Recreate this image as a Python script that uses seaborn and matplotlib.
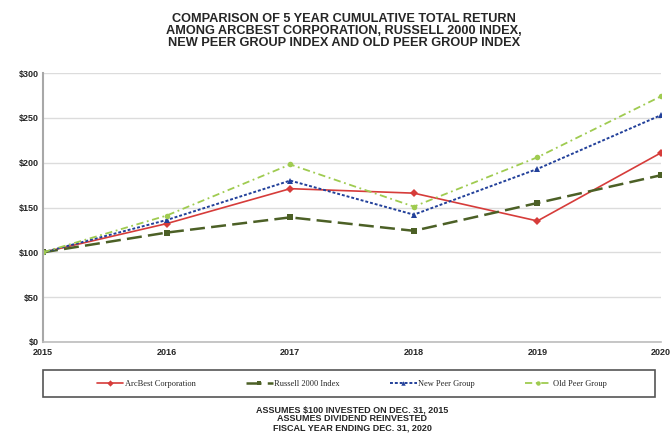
import matplotlib
matplotlib.use('Agg')
import matplotlib.pyplot as plt
from matplotlib.patches import Rectangle
import pandas as pd
import seaborn as sns

years = [2015, 2016, 2017, 2018, 2019, 2020]
arcbest = [100, 132, 171, 166, 135, 211]
russell = [100, 122, 139, 124, 155, 186]
new_peer = [100, 136, 180, 142, 193, 253]
old_peer = [100, 141, 198, 151, 206, 274]
series_names = ['ArcBest Corporation', 'Russell 2000 Index', 'New Peer Group', 'Old Peer Group']
y_ticks = [0, 50, 100, 150, 200, 250, 300]

title = ('COMPARISON OF 5 YEAR CUMULATIVE TOTAL RETURN\n'
         'AMONG ARCBEST CORPORATION, RUSSELL 2000 INDEX,\n'
         'NEW PEER GROUP INDEX AND OLD PEER GROUP INDEX')
footer = ('ASSUMES $100 INVESTED ON DEC. 31, 2015\n'
          'ASSUMES DIVIDEND REINVESTED\n'
          'FISCAL YEAR ENDING DEC. 31, 2020')

# long format for seaborn
df = pd.DataFrame({
    'year': years * 4,
    'value': arcbest + russell + new_peer + old_peer,
    'series': [n for n in series_names for _ in years],
})

palette = {
    'ArcBest Corporation': '#d63c3a',
    'Russell 2000 Index': '#4c6026',
    'New Peer Group': '#22409a',
    'Old Peer Group': '#9fcb50',
}
markers = {
    'ArcBest Corporation': 'D',
    'Russell 2000 Index': 's',
    'New Peer Group': '^',
    'Old Peer Group': 'o',
}
dashes = {
    'ArcBest Corporation': '',
    'Russell 2000 Index': (6, 2.5),
    'New Peer Group': (1.5, 1),
    'Old Peer Group': (4, 2, 1, 2),
}
widths = {
    'ArcBest Corporation': 1.2,
    'Russell 2000 Index': 1.8,
    'New Peer Group': 1.4,
    'Old Peer Group': 1.3,
}

sns.set_theme(style='white')
plt.rcParams['font.family'] = ['Liberation Sans', 'DejaVu Sans']

fig = plt.figure(figsize=(6.72, 4.38), dpi=100)
ax = fig.add_axes([43 / 672, 1 - 342 / 438, 618 / 672, 269 / 438])

sns.lineplot(data=df, x='year', y='value', hue='series', style='series',
             palette=palette, markers=markers, dashes=dashes,
             markersize=4, markeredgewidth=0, ax=ax, legend=False)
for line, name in zip(ax.get_lines(), series_names):
    line.set_linewidth(widths[name])

ax.set_xlim(2015, 2020)
ax.set_ylim(0, 300)
ax.set_xticks(years)
ax.set_yticks(y_ticks)
ax.set_yticklabels([f'${v}' for v in y_ticks])
ax.set_xlabel('')
ax.set_ylabel('')
ax.yaxis.grid(True, color='#dcdcdc', linewidth=1)
ax.tick_params(axis='y', labelsize=6.5, pad=3, length=0)
ax.tick_params(axis='x', labelsize=6.5, pad=4, length=0)
for lbl in ax.get_xticklabels() + ax.get_yticklabels():
    lbl.set_fontweight('bold')
for s in ['top', 'right']:
    ax.spines[s].set_visible(False)
ax.spines['left'].set_color('#a8a8a8')
ax.spines['left'].set_linewidth(1.5)
ax.spines['bottom'].set_color('#bcbcbc')
ax.spines['bottom'].set_linewidth(1.2)

fig.text(344 / 672, 1 - 13 / 438, title, ha='center', va='top',
         fontsize=9.2, fontweight='bold', linespacing=1.0)

# legend box is wider than its content, so draw the frame separately
fig.patches.append(Rectangle((43 / 672, 1 - 397 / 438), 612 / 672, 27 / 438,
                             transform=fig.transFigure, fill=False,
                             edgecolor='#555555', linewidth=1.2))
handles = ax.get_lines()[:4]
fig.legend(handles, series_names, loc='center',
           bbox_to_anchor=(352 / 672, 1 - 383.5 / 438), ncol=4,
           frameon=False, prop={'family': 'Liberation Serif', 'size': 6},
           handlelength=3.2, handletextpad=0.2, columnspacing=6.0,
           markerscale=0.8)

fig.text(352 / 672, 1 - 405 / 438, footer, ha='center', va='top',
         fontsize=6.5, fontweight='bold', linespacing=1.05)

fig.savefig('out.png', dpi=100)
